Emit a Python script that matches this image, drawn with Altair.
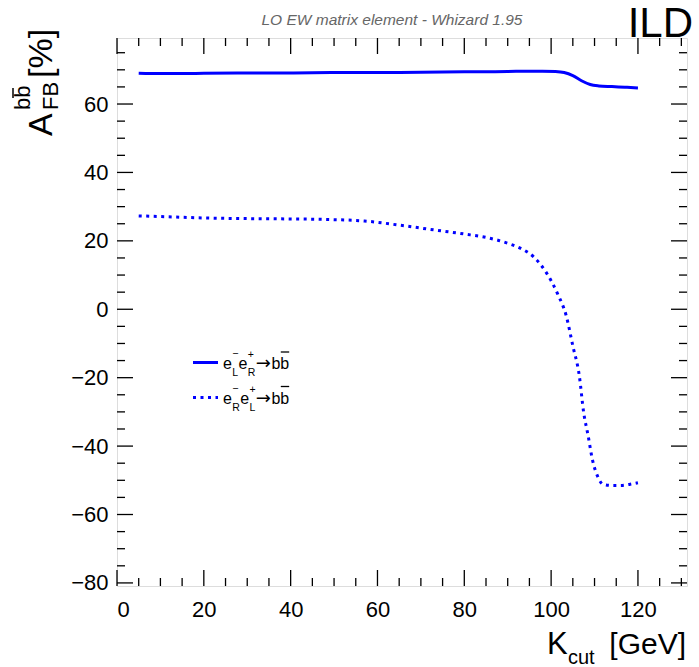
import altair as alt
import pandas as pd

# ---- data ----
kcut_LR = [5, 10, 15, 20, 30, 40, 50, 60, 70, 80, 90, 95, 98, 101, 103, 105, 107, 109, 111, 114, 117, 120]
afb_LR = [69.0, 68.9, 68.9, 69.0, 69.1, 69.1, 69.2, 69.2, 69.3, 69.4, 69.5, 69.6, 69.6, 69.5, 69.2, 68.3,
          66.8, 65.7, 65.3, 65.1, 64.9, 64.7]

kcut_RL = [5, 10, 20, 30, 40, 50, 57, 65, 73, 80, 85, 90, 93, 96, 99, 101.5, 103.5, 105, 106.5, 107.5,
           108.5, 109.5, 110.7, 112, 114, 116, 118, 120]
afb_RL = [27.3, 27.1, 26.7, 26.5, 26.4, 26.2, 25.8, 24.6, 23.2, 22.0, 21.0, 19.3, 17.8, 15.3, 10.5, 4.5,
          -2.0, -10.7, -19.5, -30.2, -36.8, -43.9, -48.8, -51.2, -51.5, -51.5, -51.2, -50.7]

x_major = [0, 20, 40, 60, 80, 100, 120]
x_minor = [v for v in range(5, 131, 5) if v % 20 != 0]
y_major = [-80, -60, -40, -20, 0, 20, 40, 60]
y_minor = [v for v in range(-75, 80, 5) if v % 20 != 0]

X_DOMAIN = [0, 131.3]
Y_DOMAIN = [-80.9, 79.3]

W, H = 570, 548
BLUE = "#0000ff"
REG = "Liberation Sans, Arial, Helvetica"
ARROW = "DejaVu Sans"

xs = alt.Scale(domain=X_DOMAIN, nice=False, zero=False)
ys = alt.Scale(domain=Y_DOMAIN, nice=False, zero=False)

xaxis = alt.Axis(values=x_major, title=None, ticks=False, domain=False, grid=False,
                 labelFont=REG, labelFontSize=22, labelPadding=13, labelColor="black", format="d")
yaxis = alt.Axis(values=y_major, title=None, ticks=False, domain=False, grid=False,
                 labelFont=REG, labelFontSize=22, labelPadding=9, labelColor="black", format="d")

df_LR = pd.DataFrame({"kcut": kcut_LR, "afb": afb_LR})
df_RL = pd.DataFrame({"kcut": kcut_RL, "afb": afb_RL})

line_LR = alt.Chart(df_LR).mark_line(color=BLUE, strokeWidth=3, interpolate="monotone").encode(
    x=alt.X("kcut:Q", scale=xs, axis=xaxis),
    y=alt.Y("afb:Q", scale=ys, axis=yaxis),
)
line_RL = alt.Chart(df_RL).mark_line(color=BLUE, strokeWidth=3, strokeDash=[3, 4.5],
                                     interpolate="monotone").encode(
    x=alt.X("kcut:Q", scale=xs, axis=xaxis),
    y=alt.Y("afb:Q", scale=ys, axis=yaxis),
)


def xticks(vals, length):
    d = pd.DataFrame({"kcut": vals})
    b = alt.Chart(d).mark_rule(color="black", strokeWidth=1.3).encode(
        x=alt.X("kcut:Q", scale=xs, axis=xaxis))
    return [b.encode(y=alt.value(H), y2=alt.value(H - length)),
            b.encode(y=alt.value(0), y2=alt.value(length))]


def yticks(vals, length):
    d = pd.DataFrame({"afb": vals})
    b = alt.Chart(d).mark_rule(color="black", strokeWidth=1.3).encode(
        y=alt.Y("afb:Q", scale=ys, axis=yaxis))
    return [b.encode(x=alt.value(0), x2=alt.value(length)),
            b.encode(x=alt.value(W), x2=alt.value(W - length))]


one = pd.DataFrame({"a": [0]})


def txt(s, x, y, size, font=REG, angle=None, align="left", color="black", style="normal"):
    kw = dict(text=s, font=font, fontSize=size, align=align, baseline="alphabetic",
              color=color, fontStyle=style)
    if angle is not None:
        kw["angle"] = angle
    return alt.Chart(one).mark_text(**kw).encode(x=alt.value(x), y=alt.value(y))


def seg(x1, x2, y1, y2, width=1.5, dash=None, color="black"):
    kw = dict(color=color, strokeWidth=width)
    if dash is not None:
        kw["strokeDash"] = dash
    return alt.Chart(one).mark_rule(**kw).encode(
        x=alt.value(x1), x2=alt.value(x2), y=alt.value(y1), y2=alt.value(y2))


layers = [line_LR, line_RL]
layers += xticks(x_major, 16) + xticks(x_minor, 8)
layers += yticks(y_major, 16) + yticks(y_minor, 8)

# title and experiment label
layers.append(txt("LO EW matrix element - Whizard 1.95", 275, -13, 15.5, align="center",
                  color="#666666", style="italic"))
layers.append(txt("ILD", 576, -1, 42, align="right"))

# x-axis title  K_cut [GeV]
layers.append(txt("K", 430, 616, 31))
layers.append(txt("cut", 451, 626, 20))
layers.append(txt("[GeV]", 569, 616, 30, align="right"))

# y-axis title  A^{bb}_{FB} [%]  (rotated)
layers.append(txt("A", -65, 98, 34, angle=270))
layers.append(txt("FB", -59, 72, 22, angle=270))
layers.append(txt("bb", -87, 72, 22, angle=270))
layers.append(seg(-104, -104, 50, 60, width=1.5))
layers.append(txt("[%]", -65, 40, 34, angle=270))

# legend
FS, SS = 16, 10.5
W_E, W_L, W_R, W_ARROW, W_B = 0.556 * FS, 0.556 * SS, 0.722 * SS, 0.838 * 18, 0.556 * FS
layers.append(seg(76, 101, 324.5, 324.5, width=3, color=BLUE))
layers.append(seg(76, 101, 359.5, 359.5, width=3, dash=[3, 4.5], color=BLUE))
for row, (s1, s2) in enumerate([("L", "R"), ("R", "L")]):
    dy = row * 34.5
    w1 = W_L if s1 == "L" else W_R
    w2 = W_L if s2 == "L" else W_R
    x0 = 106
    x1 = x0 + W_E + 0.3
    x2 = x1 + w1 + 0.5
    x3 = x2 + W_E + 0.3
    x4 = x3 + w2 + 0.5
    x5 = x4 + W_ARROW + 0.5
    layers.append(txt("e", x0, 331 + dy, FS))
    layers.append(txt("\u2212", x1, 319 + dy, SS))
    layers.append(txt(s1, x1, 338 + dy, SS))
    layers.append(txt("e", x2, 331 + dy, FS))
    layers.append(txt("+", x3, 320 + dy, SS))
    layers.append(txt(s2, x3, 338 + dy, SS))
    layers.append(txt("\u2192", x4, 331 + dy, 18, font=ARROW))
    layers.append(txt("bb", x5, 331 + dy, FS))
    layers.append(seg(x5 + W_B + 0.5, x5 + 2 * W_B, 314 + dy, 314 + dy, width=1.3))

chart = alt.layer(*layers).properties(
    width=W, height=H, autosize="none",
    padding={"left": 117, "top": 38, "right": 12, "bottom": 81},
).configure_view(stroke="black", strokeWidth=2).configure(background="white")

chart.save("out.html", embed_options={"renderer": "svg", "actions": False})
